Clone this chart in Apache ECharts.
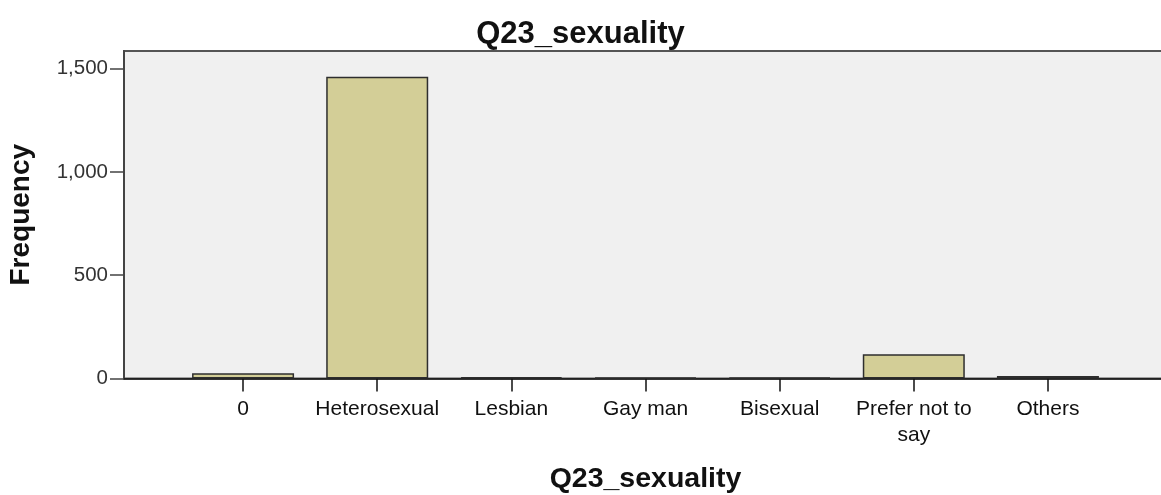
<!DOCTYPE html>
<html>
<head>
<meta charset="utf-8">
<script src="https://cdn.jsdelivr.net/npm/echarts@6/dist/echarts.min.js"></script>
<style>
  html, body { margin: 0; padding: 0; background: #fff; }
  #chart { width: 1161px; height: 495px; }
</style>
</head>
<body>
<div id="chart"></div>
<script>
const categories = ['0', 'Heterosexual', 'Lesbian', 'Gay man', 'Bisexual', 'Prefer not to say', 'Others']
const frequencies = [26, 1460, 7, 5, 6, 117, 12]
const yTicks = [0, 500, 1000, 1500]

const FONT = '"Liberation Sans", Arial, sans-serif'
const Y_MAX = 1585

const chart = echarts.init(document.getElementById('chart'))

chart.setOption({
  animation: false,
  title: {
    text: 'Q23_sexuality',
    left: 'center',
    top: 14,
    textStyle: { fontFamily: FONT, fontSize: 31, fontWeight: 'bold', color: '#111' },
  },
  grid: [
    // plot frame, runs past the right edge like the original
    {
      left: 124, right: -6, top: 51, bottom: 116.5,
      outerBoundsMode: 'none',
      show: true,
      backgroundColor: '#f0f0f0',
      borderColor: '#555',
      borderWidth: 2,
    },
    // band area for the bars
    { left: 176, right: 46, top: 51, bottom: 116.5, outerBoundsMode: 'none' },
  ],
  xAxis: [
    {
      gridIndex: 0,
      type: 'value',
      min: 0,
      max: 1,
      axisLine: { show: true, lineStyle: { color: '#111', width: 1.5 } },
      axisTick: { show: false },
      axisLabel: { show: false },
      splitLine: { show: false },
      name: 'Q23_sexuality',
      nameLocation: 'middle',
      nameGap: 86,
      nameTextStyle: { fontFamily: FONT, fontSize: 28.5, fontWeight: 'bold', color: '#111' },
    },
    {
      gridIndex: 1,
      type: 'category',
      data: categories,
      axisLine: { show: false },
      axisTick: { show: true, alignWithLabel: true, length: 13, lineStyle: { color: '#111', width: 1.5 } },
      axisLabel: {
        fontFamily: FONT,
        fontSize: 21,
        color: '#111',
        margin: 18,
        lineHeight: 26,
        interval: 0,
        formatter: v => (v === 'Prefer not to say' ? 'Prefer not to\nsay' : v),
      },
    },
  ],
  yAxis: [
    {
      gridIndex: 0,
      type: 'value',
      min: 0,
      max: Y_MAX,
      interval: 500,
      axisLine: { show: true, lineStyle: { color: '#444', width: 2 } },
      axisTick: {
        show: true,
        length: 14,
        customValues: yTicks,
        lineStyle: { color: '#444', width: 1.5 },
      },
      axisLabel: {
        fontFamily: FONT,
        fontSize: 20.5,
        color: '#333',
        margin: 16,
        customValues: yTicks,
        formatter: v => v.toLocaleString('en-US'),
      },
      splitLine: { show: false },
      name: 'Frequency',
      nameLocation: 'middle',
      nameGap: 89,
      nameTextStyle: { fontFamily: FONT, fontSize: 28, fontWeight: 'bold', color: '#111' },
    },
    {
      gridIndex: 1,
      type: 'value',
      min: 0,
      max: Y_MAX,
      show: false,
    },
  ],
  series: [
    {
      type: 'bar',
      xAxisIndex: 1,
      yAxisIndex: 1,
      data: frequencies,
      barWidth: 102,
      itemStyle: { color: '#d3ce97', borderColor: '#2e2e2e', borderWidth: 1.5 },
    },
  ],
})
</script>
</body>
</html>
